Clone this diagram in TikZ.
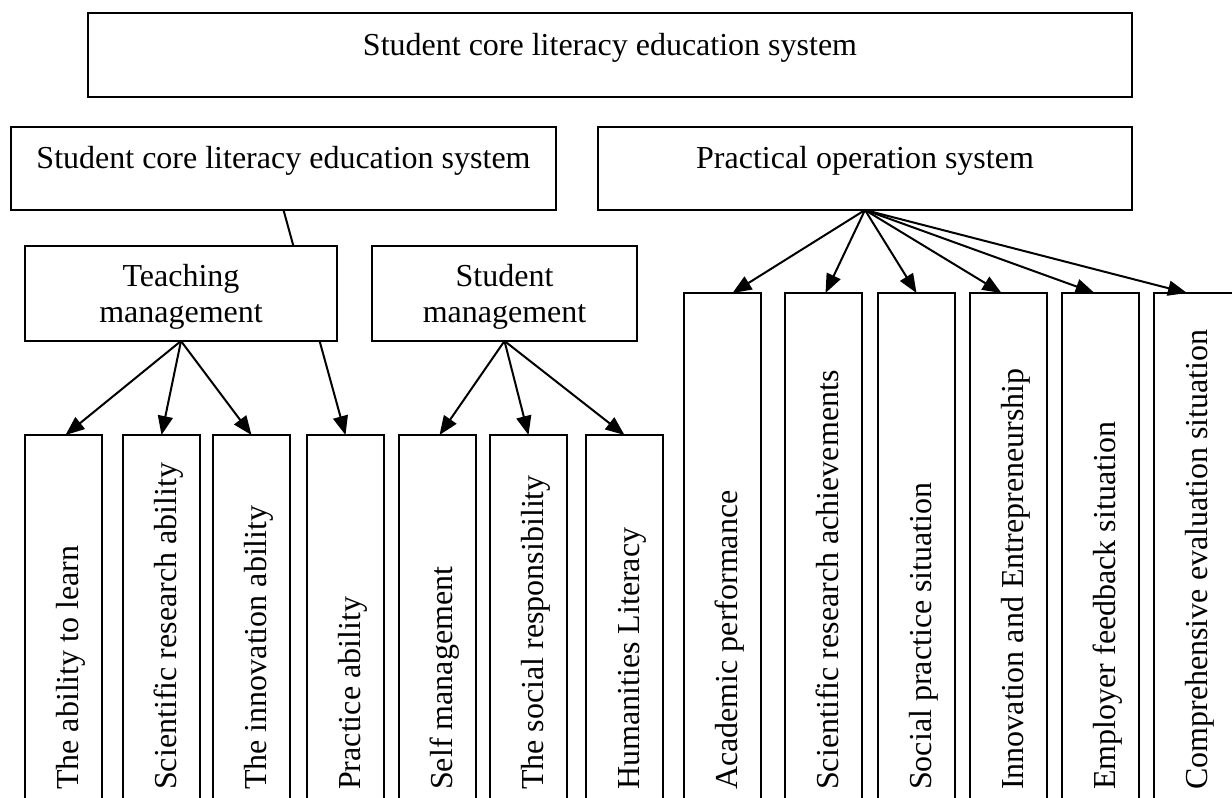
\documentclass[tikz,border=0pt]{standalone}
\usepackage{fontspec}
\setmainfont{Liberation Serif}
\usetikzlibrary{arrows.meta,backgrounds,calc}
\tikzset{
  box/.style={draw, line width=2pt, fill=white, inner sep=0pt, outer sep=0pt, font=\fontsize{32}{36}\selectfont},
  onebox/.style={box, text height=22pt, text depth=22pt},
  twobox/.style={box, align=center, text depth=1pt},
  leafl/.style={draw, line width=2pt, fill=white, inner sep=0pt, outer sep=0pt, minimum width=77pt, minimum height=370pt},
  leafr/.style={draw, line width=2pt, fill=white, inner sep=0pt, outer sep=0pt, minimum width=77pt, minimum height=512pt},
  vtext/.style={rotate=90, anchor=base west, inner sep=0pt, font=\fontsize{32}{36}\selectfont},
  arr/.style={line width=2pt, -{Triangle[length=19pt,width=15pt]}},
}
\begin{document}
\begin{tikzpicture}[x=1pt,y=-1pt]
\useasboundingbox (0,0) rectangle (1232,798);
\clip (0,0) rectangle (1232,798);

% upper boxes
\node[onebox, minimum width=1044pt, minimum height=84pt] (top) at (610,55) {Student core literacy education system};
\node[onebox, minimum width=545pt, minimum height=83pt] (sys) at (283.5,168.5) {Student core literacy education system};
\node[onebox, minimum width=534pt, minimum height=83pt] (prac) at (865,168.5) {Practical operation system};
\node[twobox, minimum width=312pt, minimum height=95pt] (teach) at (181,293.5) {Teaching\\management};
\node[twobox, minimum width=265pt, minimum height=95pt] (stud) at (504.5,293.5) {Student\\management};

% left leaf boxes
\node[leafl] (l1) at (63.5,620) {};
\node[leafl] (l2) at (161.5,620) {};
\node[leafl] (l3) at (251.5,620) {};
\node[leafl] (l4) at (345.5,620) {};
\node[leafl] (l5) at (437.5,620) {};
\node[leafl] (l6) at (528.5,620) {};
\node[leafl] (l7) at (624.5,620) {};

% right leaf boxes
\node[leafr] (r1) at (722.5,549) {};
\node[leafr] (r2) at (823.5,549) {};
\node[leafr] (r3) at (916.5,549) {};
\node[leafr] (r4) at (1008.5,549) {};
\node[leafr] (r5) at (1100.5,549) {};
\node[leafr, minimum width=80pt] (r6) at (1194,549) {};

% vertical texts
\node[vtext] (t1) at (78,790) {The ability to learn};
\node[vtext] (t2) at (176,790) {Scientific research ability};
\node[vtext] (t3) at (266,790) {The innovation ability};
\node[vtext] (t4) at (360,790) {Practice ability};
\node[vtext] (t5) at (452,790) {Self management};
\node[vtext] (t6) at (543,790) {The social responsibility};
\node[vtext] (t7) at (639,790) {Humanities Literacy};
\node[vtext] (u1) at (737,790) {Academic performance};
\node[vtext] (u2) at (838,790) {Scientific research achievements};
\node[vtext] (u3) at (931,790) {Social practice situation};
\node[vtext] (u4) at (1023,790) {Innovation and Entrepreneurship};
\node[vtext] (u5) at (1115,790) {Employer feedback situation};
\node[vtext] (u6) at (1207,790) {Comprehensive evaluation situation};

% connectors
\begin{scope}[on background layer]
\draw[arr] (sys.south) -- (l4.north);
\end{scope}
\draw[arr] (teach.south) -- ($(l1.north)+(2,0)$);
\draw[arr] (teach.south) -- (l2.north);
\draw[arr] (teach.south) -- (l3.north);
\draw[arr] (stud.south) -- ($(l5.north)+(2,0)$);
\draw[arr] (stud.south) -- (l6.north);
\draw[arr] (stud.south) -- (l7.north);
\draw[arr] (prac.south) -- ($(r1.north)+(10,0)$);
\draw[arr] (prac.south) -- ($(r2.north)+(2,0)$);
\draw[arr] (prac.south) -- (r3.north);
\draw[arr] (prac.south) -- ($(r4.north)+(-7,0)$);
\draw[arr] (prac.south) -- ($(r5.north)+(-6,0)$);
\draw[arr] (prac.south) -- ($(r6.north)+(-7,0)$);
\end{tikzpicture}
\end{document}
